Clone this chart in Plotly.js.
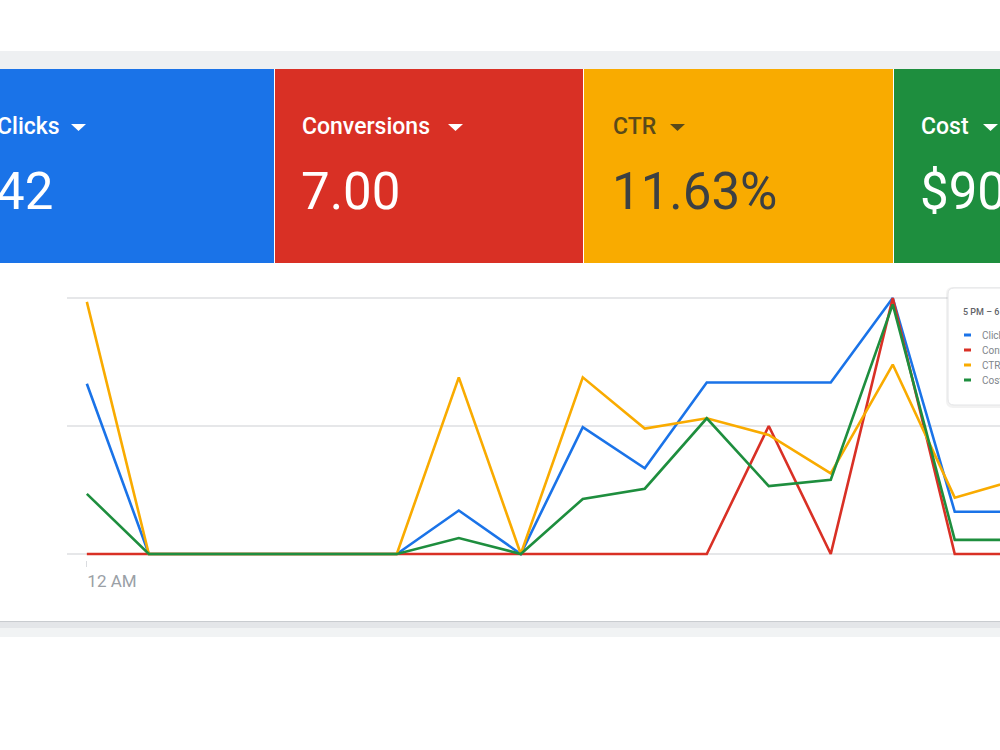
<!DOCTYPE html>
<html>
<head>
<meta charset="utf-8">
<script src="https://cdn.plot.ly/plotly-3.0.1.min.js"></script>
<style>html,body{margin:0;padding:0;background:#fff;}#chart{width:1000px;height:750px;}</style>
</head>
<body>
<div id="chart"></div>
<script>
// ---- data (normalised to the chart's shared grid: 0 = baseline, 1 = middle line, 2 = top line) ----
const hours = ["12 AM","1 AM","2 AM","3 AM","4 AM","5 AM","6 AM","7 AM","8 AM","9 AM","10 AM","11 AM","12 PM","1 PM","2 PM","3 PM"];
const clicks      = [1.33, 0, 0, 0, 0, 0, 0.34, 0, 0.99, 0.67, 1.34, 1.34, 1.34, 2.00, 0.33, 0.33];
const conversions = [0, 0, 0, 0, 0, 0, 0, 0, 0, 0, 0, 1.00, 0, 2.00, 0, 0];
const ctr         = [1.97, 0, 0, 0, 0, 0, 1.38, 0, 1.38, 0.98, 1.06, 0.93, 0.63, 1.48, 0.44, 0.58];
const cost        = [0.47, 0, 0, 0, 0, 0, 0.125, 0, 0.43, 0.51, 1.06, 0.53, 0.58, 1.95, 0.11, 0.11];
const seriesNames = ["Clicks", "Conversions", "CTR", "Cost"];
const tileValues  = ["42", "7.00", "11.63%", "$90"];
const legendTitle = "5 PM – 6 PM";

// ---- styling / geometry ----
const colors = ["#1a73e8", "#d93025", "#f9ab00", "#1e8e3e"];
const W = 1000, H = 750;
const L = 67, R = 1000, T = 290, B = 560;
const px = X => (X - L) / (R - L);
const py = Y => (B - Y) / (B - T);

const series = [clicks, conversions, ctr, cost];
const traces = series.map((s, i) => ({
  type: "scatter", mode: "lines", x: hours, y: s, name: seriesNames[i],
  line: {color: colors[i], width: 2.6}, cliponaxis: false, hoverinfo: "skip"
}));

function rect(X0, Y0, X1, Y1, fill, line, layer) {
  return {type: "rect", xref: "paper", yref: "paper", x0: px(X0), x1: px(X1), y0: py(Y1), y1: py(Y0),
          fillcolor: fill, line: line || {width: 0}, layer: layer || "below"};
}
function rrect(X0, Y0, X1, Y1, r, fill, line) {
  const p = (X, Y) => px(X) + "," + py(Y);
  const d = "M" + p(X0 + r, Y0) + " L" + p(X1 - r, Y0) + " Q" + p(X1, Y0) + " " + p(X1, Y0 + r) +
            " L" + p(X1, Y1 - r) + " Q" + p(X1, Y1) + " " + p(X1 - r, Y1) +
            " L" + p(X0 + r, Y1) + " Q" + p(X0, Y1) + " " + p(X0, Y1 - r) +
            " L" + p(X0, Y0 + r) + " Q" + p(X0, Y0) + " " + p(X0 + r, Y0) + " Z";
  return {type: "path", xref: "paper", yref: "paper", path: d, fillcolor: fill, line: line || {width: 0}, layer: "above"};
}
function tri(X0, Y0, w, h, color) {
  const d = "M" + px(X0) + "," + py(Y0) + " L" + px(X0 + w) + "," + py(Y0) + " L" + px(X0 + w / 2) + "," + py(Y0 + h) + " Z";
  return {type: "path", xref: "paper", yref: "paper", path: d, fillcolor: color, line: {width: 0}, layer: "below"};
}
function txt(X, Y, text, size, color, weight, opts) {
  return Object.assign({xref: "paper", yref: "paper", x: px(X), y: py(Y), text: text, showarrow: false,
    xanchor: "left", yanchor: "middle", borderpad: 0,
    font: {family: "Roboto, 'Noto Sans', sans-serif", size: size, color: color, weight: weight || 400}}, opts || {});
}

const tiles = [
  {x0: -5, x1: 274, labX: -4, triX: 71, fg: "#ffffff", lab: "#ffffff"},
  {x0: 275, x1: 583, labX: 301, triX: 448, fg: "#ffffff", lab: "#ffffff"},
  {x0: 584, x1: 893, labX: 612, triX: 670, fg: "#3c4043", lab: "#5a4a1a"},
  {x0: 894, x1: 1005, labX: 920, triX: 983, fg: "#ffffff", lab: "#ffffff"}
];

const shapes = [
  rect(-5, 51, 1005, 69, "#eef0f2"),
  rect(-5, 621, 1005, 622.5, "#c9ccd0"),
  rect(-5, 622.5, 1005, 628, "#e4e6e9"),
  rect(-5, 628, 1005, 637, "#f1f3f4")
];
const annotations = [];
tiles.forEach((t, i) => {
  shapes.push(rect(t.x0, 69, t.x1, 263, colors[i]));
  shapes.push(tri(t.triX, 124, 15, 7, t.lab));
  annotations.push(txt(t.labX, 126, seriesNames[i], 23, t.lab, 500));
  annotations.push(txt(t.labX - 1, 191, tileValues[i], 51, t.fg, 400));
});

// floating tooltip-style legend (cut at the right edge)
shapes.push(rrect(946, 287, 1012, 408, 7, "rgba(0,0,0,0.05)"));
shapes.push(rrect(948, 288, 1010, 405, 6, "#ffffff", {color: "#e3e4e6", width: 1}));
annotations.push(txt(962, 312, legendTitle, 9, "#5f6368", 500));
seriesNames.forEach((n, i) => {
  const Y = 335 + i * 15;
  shapes.push({type: "line", xref: "paper", yref: "paper", x0: px(964), x1: px(971), y0: py(Y), y1: py(Y),
               line: {color: colors[i], width: 3}, layer: "above"});
  annotations.push(txt(981, Y, n, 10, "#80868b", 400));
});

const layout = {
  width: W, height: H,
  margin: {l: L, r: W - R, t: T, b: H - B, autoexpand: false},
  paper_bgcolor: "#ffffff", plot_bgcolor: "rgba(0,0,0,0)",
  showlegend: false,
  xaxis: {type: "category", range: [-0.32, 14.73], showgrid: false, zeroline: false, showline: false,
          tickvals: [hours[0]], ticktext: [hours[0]], ticks: "outside", ticklen: 6, tickcolor: "#dadce0",
          ticklabelposition: "outside right", ticklabelstandoff: 6,
          tickfont: {family: "Roboto, sans-serif", size: 17, color: "#9aa0a6"}},
  yaxis: {range: [-0.047, 2.0625], dtick: 1, tick0: 0, showticklabels: false, gridcolor: "#e6e7e9", gridwidth: 1.2,
          zeroline: true, zerolinecolor: "#e6e7e9", zerolinewidth: 1.2, showline: false},
  shapes: shapes, annotations: annotations
};

Plotly.newPlot("chart", traces, layout, {staticPlot: true, displayModeBar: false});
</script>
</body>
</html>
